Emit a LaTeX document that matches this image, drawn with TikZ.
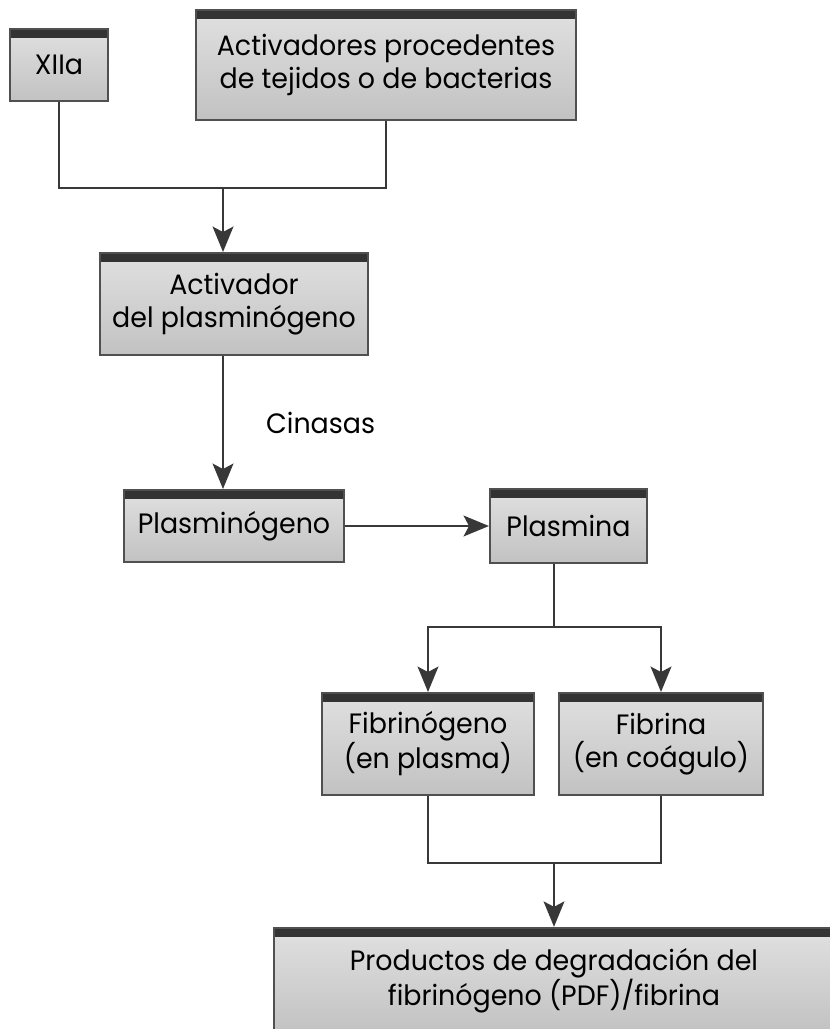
\documentclass[tikz,border=0pt]{standalone}
\usepackage{fontspec}
\setmainfont[FakeStretch=0.96]{Poppins}
\usetikzlibrary{arrows.meta,positioning}

\definecolor{barcol}{HTML}{333333}
\definecolor{edgecol}{HTML}{505050}
\definecolor{linecol}{HTML}{383838}

\begin{document}
\begin{tikzpicture}[
    x=0.75pt, y=-0.75pt,
    font=\fontsize{21}{25}\selectfont,
    box/.style={rectangle, draw=edgecol, line width=1.5pt, align=center, inner sep=2pt,
        top color=black!12, bottom color=black!24,
        path picture={\fill[barcol] (path picture bounding box.north west) rectangle ([yshift=-6.8pt]path picture bounding box.north east);}},
    link/.style={draw=linecol, line width=2.1pt},
    flow/.style={link, -{Stealth[length=19pt, width=15.5pt, inset=4pt]}}
]
\useasboundingbox (0,0) rectangle (830,1029);

% activators
\node[box, minimum width=73.5pt, minimum height=54pt] (xiia) at (59,65) {XIIa};
\node[box, minimum width=285pt, minimum height=82pt, right=64.5pt of xiia] (tejidos) {Activadores procedentes\\de tejidos o de bacterias};
\node[box, minimum width=201pt, minimum height=76.5pt] (activador) at (234,304) {Activador\\del plasminógeno};

% plasminogen -> plasmin
\node[box, minimum width=165pt, minimum height=54pt, below=99.75pt of activador] (plasminogeno) {Plasminógeno};
\node[box, minimum width=117.75pt, minimum height=55.5pt, right=108pt of plasminogeno] (plasmina) {Plasmina};

% substrates
\node[box, minimum width=159pt, minimum height=76.5pt] (fibrinogeno) at (428,744) {Fibrinógeno\\(en plasma)};
\node[box, minimum width=153pt, minimum height=76.5pt, right=17.25pt of fibrinogeno] (fibrina) {Fibrina\\(en coágulo)};
\node[box, minimum width=420pt, minimum height=79pt] (productos) at (554,980.5) {Productos de degradación del\\fibrinógeno (PDF)/fibrina};

\coordinate (topjoin) at (223,188);
\coordinate (split) at (554,627);
\coordinate (merge) at (554,863);

\draw[link] (xiia.south) |- (tejidos.south |- topjoin) -- (tejidos.south);
\draw[flow] (topjoin) -- (topjoin |- activador.north);
\draw[flow] (activador.south -| topjoin) -- node[right=28pt, pos=0.5] {Cinasas} (plasminogeno.north -| topjoin);
\draw[flow] (plasminogeno) -- (plasmina);

\draw[link] (plasmina.south -| split) -- (split);
\draw[flow] (split) -| (fibrinogeno.north);
\draw[flow] (split) -| (fibrina.north);

\draw[link] (fibrinogeno.south) |- (fibrina.south |- merge) -- (fibrina.south);
\draw[flow] (merge) -- (merge |- productos.north);

\end{tikzpicture}
\end{document}
